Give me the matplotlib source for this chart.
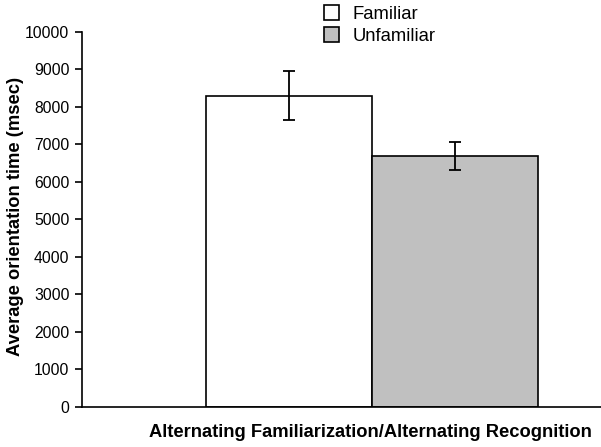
import matplotlib.pyplot as plt

plt.rcParams['font.family'] = ['Liberation Sans', 'DejaVu Sans']

groups = ["Familiar", "Unfamiliar"]
means = [8300, 6700]
errors = [650, 375]
colors = ["white", "#c0c0c0"]
yticks = list(range(0, 10001, 1000))

fig = plt.figure(figsize=(6.01, 4.47), dpi=100)
ax = fig.add_axes([0.1364, 0.0895, 0.8636, 0.8390])

pos = [0, 1]
for p, m, e, c, g in zip(pos, means, errors, colors, groups):
    ax.bar(p, m, width=1.0, color=c, edgecolor="black", linewidth=1.2, label=g)
    ax.errorbar(p, m, yerr=e, fmt="none", ecolor="black", elinewidth=1.3, capsize=4, capthick=1.3)

ax.set_xlim(-1.247, 1.88)
ax.set_ylim(0, 10000)
ax.set_yticks(yticks)
ax.set_yticklabels([str(t) for t in yticks], fontsize=11.3)
ax.set_xticks([])
ax.spines["top"].set_visible(False)
ax.spines["right"].set_visible(False)
ax.spines["left"].set_linewidth(1.2)
ax.spines["bottom"].set_linewidth(1.2)
ax.tick_params(axis="y", direction="out", length=5, width=1.2, pad=4)
ax.set_ylabel("Average orientation time (msec)", fontsize=13.2, fontweight="bold")
ax.yaxis.set_label_coords(-0.112, 0.508)
ax.set_xlabel("Alternating Familiarization/Alternating Recognition", fontsize=13.2,
              fontweight="bold")
ax.xaxis.set_label_coords(0.555, -0.045)
ax.xaxis.label.set_verticalalignment("top")

fig.legend(loc="upper left", bbox_to_anchor=(0.511, 1.025), frameon=False, fontsize=13.3,
           handlelength=0.85, handleheight=0.85, handletextpad=0.7, labelspacing=0.2)

fig.savefig("out.png", dpi=100)
